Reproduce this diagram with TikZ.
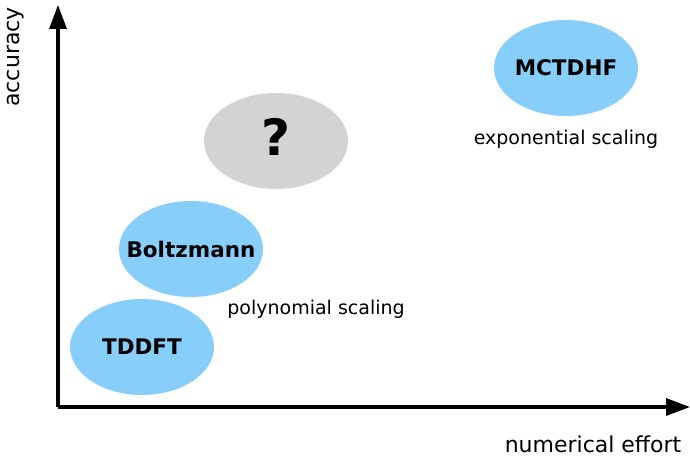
\documentclass[tikz,border=0pt]{standalone}
\usepackage{fontspec}
\setmainfont{DejaVu Sans}
\usetikzlibrary{arrows.meta,shapes.geometric}
\definecolor{methodblue}{HTML}{87CEFA}
\definecolor{unknowngrey}{HTML}{D3D3D3}
\begin{document}
\begin{tikzpicture}[x=1pt,y=-1pt,
  blob/.style={ellipse, minimum width=144pt, minimum height=96pt, inner sep=0pt},
  method/.style={blob, fill=methodblue},
  unknown/.style={blob, fill=unknowngrey},
  methodname/.style={font=\bfseries\fontsize{21.5}{24}\selectfont},
  qmark/.style={font=\bfseries\fontsize{50}{54}\selectfont},
  note/.style={font=\fontsize{19}{22}\selectfont},
  axislabel/.style={font=\fontsize{22}{26}\selectfont},
  axis/.style={line width=3.2pt, -{Triangle[length=24pt,width=17pt]}}]
\useasboundingbox (0,0) rectangle (690,457);
% axes
\coordinate (origin) at (58,407);
\coordinate (ytop) at (58,5);
\coordinate (xend) at (690,407);
\draw[axis] (origin) -- (ytop);
\draw[axis] (origin) -- (xend);
\node[axislabel, rotate=90] (ylab) at (16,57) {accuracy};
\node[axislabel] (xlab) at (593,444) {numerical effort};
% methods
\node[method] (mctdhf) at (566,68) {};
\node[methodname] (mctdhftext) at (mctdhf) {MCTDHF};
\node[unknown] (q) at (276,141) {};
\node[qmark] (qtext) at ([yshift=4pt]q) {?};
\node[method] (boltz) at (191,249) {};
\node[methodname] (boltztext) at (boltz) {Boltzmann};
\node[method] (tddft) at (142,347) {};
\node[methodname] (tddfttext) at (tddft) {TDDFT};
% scaling notes
\node[note] (exp) at (566,139) {exponential scaling};
\node[note] (poly) at (316,309) {polynomial scaling};
\end{tikzpicture}
\end{document}
